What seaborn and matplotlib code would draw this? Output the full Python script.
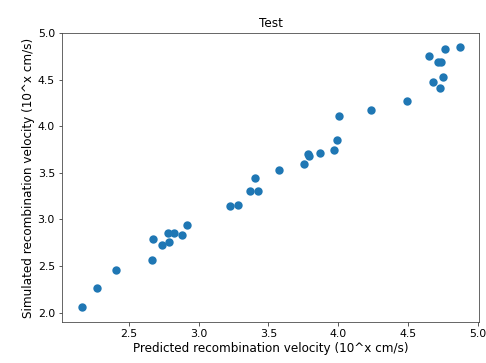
import matplotlib
matplotlib.use("Agg")
import matplotlib.pyplot as plt
import seaborn as sns
import pandas as pd

predicted = [2.165, 2.272, 2.404, 2.665, 2.672, 2.737, 2.787, 2.780, 2.823, 2.879,
             2.915, 3.228, 3.281, 3.367, 3.427, 3.407, 3.575, 3.752, 3.781, 3.791,
             3.870, 3.968, 3.994, 4.004, 4.239, 4.495, 4.648, 4.763, 4.873, 4.715,
             4.734, 4.682, 4.754, 4.727]
simulated = [2.06, 2.27, 2.46, 2.57, 2.79, 2.73, 2.76, 2.85, 2.85, 2.83,
             2.94, 3.14, 3.16, 3.31, 3.30, 3.44, 3.53, 3.60, 3.70, 3.68,
             3.71, 3.74, 3.85, 4.11, 4.17, 4.27, 4.75, 4.83, 4.85, 4.69,
             4.69, 4.47, 4.53, 4.41]

df = pd.DataFrame({"predicted": predicted, "simulated": simulated})

fig = plt.figure(figsize=(486 / 72, 363 / 72), dpi=72)
ax = fig.add_axes([62 / 486, 41 / 363, 417 / 486, 289 / 363])
sns.scatterplot(data=df, x="predicted", y="simulated", ax=ax,
                color="#1f77b4", s=70, linewidth=0)
ax.set_xlim(2.02, 5.01)
ax.set_ylim(1.90, 5.00)
ax.set_xticks([2.5, 3.0, 3.5, 4.0, 4.5, 5.0])
ax.set_yticks([2.0, 2.5, 3.0, 3.5, 4.0, 4.5, 5.0])
ax.set_title("Test", fontsize=12)
ax.set_xlabel("Predicted recombination velocity (10^x cm/s)", fontsize=12, labelpad=3)
ax.set_ylabel("Simulated recombination velocity (10^x cm/s)", fontsize=12, labelpad=3)
ax.tick_params(labelsize=11, color="#333333")
for sp in ax.spines.values():
    sp.set_color("#444444")
fig.savefig("out.png", dpi=72)
